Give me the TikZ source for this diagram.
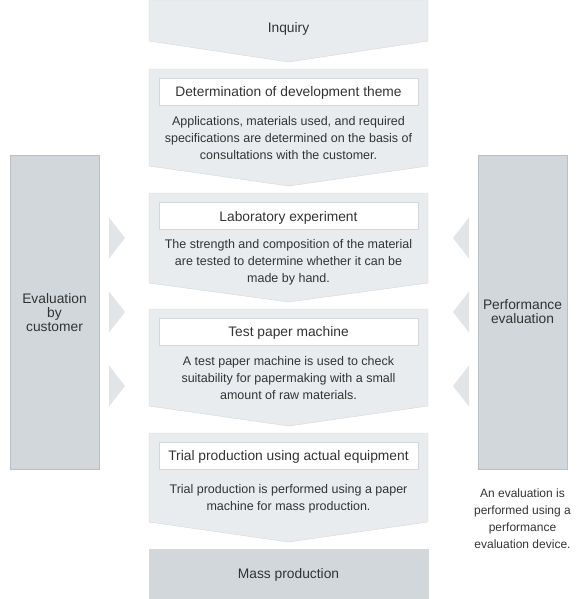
\documentclass[tikz,border=0pt]{standalone}
\usepackage{fontspec}
\setmainfont{Liberation Sans}
\usepackage{xcolor}
\usepackage{tikz}
\usetikzlibrary{positioning}
\definecolor{stepfill}{HTML}{E9ECEE}
\definecolor{stepline}{HTML}{D2D7DA}
\definecolor{sidefill}{HTML}{D1D7DB}
\definecolor{sideline}{HTML}{B8C0C5}
\definecolor{tipfill}{HTML}{E1E5E8}
\definecolor{inktext}{HTML}{333333}

% pointed step: top, side bottom, tip
\newcommand{\stepshape}[3]{%
  \draw[stepline,fill=stepfill] (149,#1) -- (428,#1) -- (428,#2) -- (288.5,#3) -- (149,#2) -- cycle;}

\begin{document}
\begin{tikzpicture}[x=1pt,y=-1pt,
  every node/.style={text=inktext},
  labelbox/.style={draw=stepline,fill=white,minimum width=259pt,minimum height=27pt,
    inner sep=0pt,text depth=0pt,font=\fontsize{13.8}{16}\selectfont},
  body/.style={align=center,inner sep=0pt,font=\fontsize{12.5}{17}\selectfont},
  sidebox/.style={draw=sideline,fill=sidefill,minimum width=89pt,minimum height=314pt,
    inner sep=0pt,align=center,text depth=0pt,font=\fontsize{13.8}{14}\selectfont},
  tip/.style={fill=tipfill}]
  \useasboundingbox (0,0) rectangle (578,599);
  % main column
  \stepshape{0}{41}{62}
  \node[font=\fontsize{13.8}{16}\selectfont,text depth=0pt] (inquiry) at (288.5,27.5) {Inquiry};
  \stepshape{69}{166}{186}
  \node[labelbox] (theme) at (288.5,91.5) {Determination of development theme};
  \node[body] (themetxt) at (288.5,138) {Applications, materials used, and required\\
    specifications are determined on the basis of\\consultations with the customer.};
  \stepshape{193}{283}{302}
  \node[labelbox] (lab) at (288.5,216) {Laboratory experiment};
  \node[body] (labtxt) at (288.5,262) {The strength and composition of the material\\
    are tested to determine whether it can be\\made by hand.};
  \stepshape{309}{406}{426}
  \node[labelbox] (machine) at (288.5,331.5) {Test paper machine};
  \node[body] (machinetxt) at (288.5,378) {A test paper machine is used to check\\
    suitability for papermaking with a small\\amount of raw materials.};
  \stepshape{433}{522}{542}
  \node[labelbox] (trial) at (288.5,455.5) {Trial production using actual equipment};
  \node[body] (trialtxt) at (288.5,498.5) {Trial production is performed using a paper\\
    machine for mass production.};
  \node[draw=stepline,fill=sidefill,minimum width=279pt,minimum height=49pt,inner sep=0pt,
    text depth=0pt,font=\fontsize{13.8}{16}\selectfont] (mass) at (288.5,573.5) {Mass production};
  % side columns
  \node[sidebox] (customer) at (54.5,312) {Evaluation\\by\\customer};
  \node[sidebox] (perf) at (522.5,312) {Performance\\evaluation};
  \node[body,font=\fontsize{12}{17}\selectfont,below=19pt of perf] (perftxt) {An evaluation is\\
    performed using a\\performance\\evaluation device.};
  % arrow tips
  \foreach \y in {238,312,386} {
    \fill[tip] (109,\y-20.5) -- (125,\y) -- (109,\y+20.5) -- cycle;
    \fill[tip] (469,\y-20.5) -- (453,\y) -- (469,\y+20.5) -- cycle;
  }
\end{tikzpicture}
\end{document}
